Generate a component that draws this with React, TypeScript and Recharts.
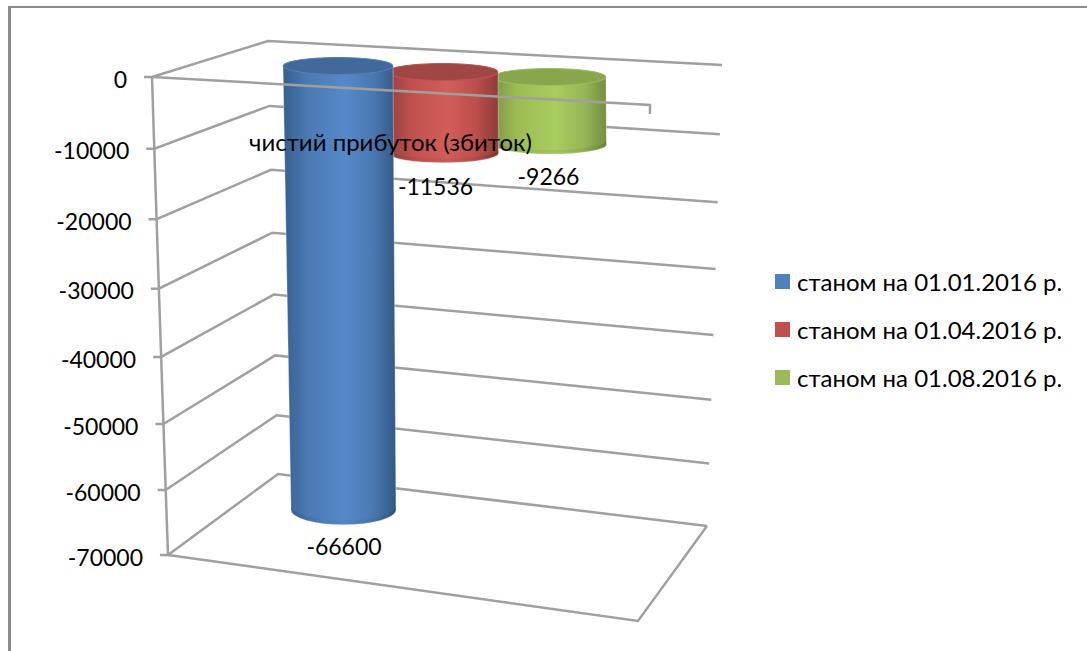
import React from "react";
import { ComposedChart, Bar, XAxis, YAxis, CartesianGrid, ReferenceLine, LabelList, Legend } from "recharts";

const categories = ["чистий прибуток (збиток)"];
const seriesNames = ["станом на 01.01.2016 р.", "станом на 01.04.2016 р.", "станом на 01.08.2016 р."];
const seriesKeys = ["jan", "apr", "aug"];
const janValues = [-66600];
const aprValues = [-11536];
const augValues = [-9266];
const legendColors = ["#4f81bd", "#c0504d", "#9bbb59"];
const yTicks = [0, -10000, -20000, -30000, -40000, -50000, -60000, -70000];

const data = categories.map((category, i) => ({ category, jan: janValues[i], apr: aprValues[i], aug: augValues[i] }));

const FONT = "Lato, 'Open Sans', sans-serif";
const W = 1087, H = 651;
const TOP = 77, BOTTOM = 555, PLOT_LEFT = 152, PLOT_RIGHT = 736, LEGEND_W = 312;
const GRID = "#a0a0a0";

// Perspective helpers for the 3-D wall, all fed by the axis scale's y
const frac = (y: number) => (y - TOP) / (BOTTOM - TOP);
const warp = (t: number) => t + 0.058 * t * (1 - t);
const leftX = (y: number) => 152 + 16 * frac(y);
const leftY = (y: number) => TOP + (BOTTOM - TOP) * warp(frac(y));
const backX = (y: number) => 268 + 10 * frac(y);
const backY = (y: number) => 41 + 433 * warp(frac(y));
const rightX = (y: number) => 722 - 15 * frac(y);
const rightY = (y: number) => 65 + 461 * warp(frac(y));

const looks = [
  { stops: ["#375f8e", "#4b7ab4", "#5689c9", "#4a78b1", "#325985"], cap: "#41699c", rim: "#5582b6", dy: -11, k: 0.976, lx: 6, ly: 21 },
  { stops: ["#94403e", "#c0504e", "#d25e5a", "#bc4e4b", "#8f3c3a"], cap: "#a04745", rim: "#bf5451", dy: -5, k: 1.03, lx: -7, ly: 23 },
  { stops: ["#7b9647", "#9dbd54", "#a9cc5e", "#97b657", "#748e42"], cap: "#88a64c", rim: "#9fbe58", dy: 0, k: 1.07, lx: -1, ly: 22 },
];

const geom = (i: number, x: number, y: number, width: number, height: number) => {
  const top = Math.min(y, y + height);
  const h = Math.abs(height);
  const look = looks[i];
  const tY = top + look.dy;
  const bY = tY + h * look.k;
  const ryT = 8.5;
  const ryB = 8.5 + h * 0.0143;
  const lb = x + h * 0.0176;
  const rb = x + width + h * 0.0066;
  return { tY, bY, ryT, ryB, lb, rb, look };
};

const cylinder = (i: number) => (props: any) => {
  const { x, y, width, height } = props;
  const { tY, bY, ryT, ryB, lb, rb, look } = geom(i, x, y, width, height);
  const rxB = (rb - lb) / 2;
  const id = `cyl-${i}`;
  const shade = `cyl-shade-${i}`;
  const offs = ["0%", "22%", "55%", "80%", "100%"];
  const body = `M${x},${tY} L${lb},${bY} A${rxB},${ryB} 0 0 0 ${rb},${bY} L${x + width},${tY} A${width / 2},${ryT} 0 0 0 ${x},${tY} Z`;
  const lip = `M${lb},${bY - 4} L${lb},${bY} A${rxB},${ryB} 0 0 0 ${rb},${bY} L${rb},${bY - 4} A${rxB},${ryB} 0 0 1 ${lb},${bY - 4} Z`;
  return (
    <g>
      <defs>
        <linearGradient id={id} x1="0" x2="1" y1="0" y2="0">
          {look.stops.map((c, n) => <stop key={n} offset={offs[n]} stopColor={c} />)}
        </linearGradient>
        <linearGradient id={shade} x1="0" x2="0" y1="0" y2="1">
          <stop offset="0%" stopColor="#000" stopOpacity={0.14} />
          <stop offset="100%" stopColor="#000" stopOpacity={0.02} />
        </linearGradient>
      </defs>
      <path d={body} fill={`url(#${id})`} stroke="#ffffff" strokeOpacity={0.35} strokeWidth={1} />
      <path d={lip} fill={`url(#${shade})`} />
      <ellipse cx={x + width / 2} cy={tY} rx={width / 2} ry={ryT} fill={look.cap} stroke={look.rim} strokeWidth={1} />
    </g>
  );
};

const valueLabel = (i: number) => (props: any) => {
  const { x, y, width, height, value } = props;
  const { bY, ryB, look } = geom(i, x, y, width, height);
  return (
    <text x={x + width / 2 + look.lx} y={bY + ryB + look.ly} textAnchor="middle" dominantBaseline="central" fontFamily={FONT} fontSize={23} fill="#000">
      {value}
    </text>
  );
};

const gridLine = (props: any) => {
  const y = props.y1;
  const isFloor = y >= BOTTOM - 1;
  const step = (BOTTOM - TOP) / (yTicks.length - 1);
  const lx = leftX(y), ly = leftY(y);
  return (
    <g key={`wall-${y}`} fill="none" stroke={GRID} strokeWidth={2.5}>
      <path d={`M${lx - 8},${ly} L${lx},${ly} L${backX(y)},${backY(y)} L${rightX(y)},${rightY(y)}`} />
      {!isFloor && <path d={`M${lx},${ly} L${leftX(y + step)},${leftY(y + step)}`} />}
      {isFloor && <path d={`M${lx},${ly} L${lx + 470},${ly + 66} L${rightX(y)},${rightY(y)}`} />}
    </g>
  );
};

const frontZero = (props: any) => {
  const y = props.y1;
  const lx = leftX(y), ly = leftY(y);
  return <path d={`M${lx},${ly} L${lx + 498},${ly + 28} L${lx + 498},${ly + 37}`} fill="none" stroke={GRID} strokeWidth={2.5} />;
};

const yTick = (props: any) => {
  const { y, payload } = props;
  return (
    <text x={leftX(y) - 25} y={leftY(y) + 1.7} textAnchor="end" dominantBaseline="central" fontFamily={FONT} fontSize={23} fill="#000">
      {payload.value}
    </text>
  );
};

const catTick = (props: any) => (
  <text x={props.x - 52} y={141} textAnchor="middle" dominantBaseline="central" fontFamily={FONT} fontSize={24} fill="#000">
    {props.payload.value}
  </text>
);

const legendContent = (props: any) => {
  const items = [...(props.payload || [])].sort((a: any, b: any) => seriesNames.indexOf(a.value) - seriesNames.indexOf(b.value));
  return (
    <div style={{ fontFamily: FONT, fontSize: 24, color: "#000" }}>
      {items.map((it: any) => (
        <div key={it.value} style={{ display: "flex", alignItems: "center", height: 48, whiteSpace: "nowrap" }}>
          <span style={{ width: 15, height: 15, background: it.color, marginRight: 7, display: "inline-block" }} />
          {it.value}
        </div>
      ))}
    </div>
  );
};

export default function App() {
  return (
    <div style={{ position: "absolute", left: 0, top: 0, width: W, height: H, overflow: "hidden", background: "#fff" }}>
      <div style={{ position: "absolute", left: 8, top: 6, right: 0, bottom: 0, borderLeft: "3px solid #8c8c8c", borderTop: "2px solid #8c8c8c" }} />
      <div style={{ position: "absolute", left: 0, top: 0 }}>
        <ComposedChart
          width={W}
          height={H}
          data={data}
          margin={{ top: TOP, right: W - PLOT_RIGHT - LEGEND_W, bottom: H - BOTTOM - 1, left: 0 }}
        >
          <YAxis type="number" width={PLOT_LEFT} domain={[-70000, 0]} ticks={yTicks} interval={0} axisLine={false} tickLine={false} tick={yTick} />
          <XAxis xAxisId="aug" dataKey="category" hide padding={{ left: 211, right: 0 }} />
          <XAxis xAxisId="jan" dataKey="category" hide padding={{ left: 0, right: 212 }} />
          <CartesianGrid xAxisId="apr" vertical={false} horizontal={gridLine} />
          <Bar xAxisId="aug" dataKey={seriesKeys[2]} name={seriesNames[2]} fill={legendColors[2]} barSize={113} shape={cylinder(2)} isAnimationActive={false}>
            <LabelList dataKey={seriesKeys[2]} content={valueLabel(2)} />
          </Bar>
          <Bar xAxisId="apr" dataKey={seriesKeys[1]} name={seriesNames[1]} fill={legendColors[1]} barSize={111} shape={cylinder(1)} isAnimationActive={false}>
            <LabelList dataKey={seriesKeys[1]} content={valueLabel(1)} />
          </Bar>
          <Bar xAxisId="jan" dataKey={seriesKeys[0]} name={seriesNames[0]} fill={legendColors[0]} barSize={110} shape={cylinder(0)} isAnimationActive={false}>
            <LabelList dataKey={seriesKeys[0]} content={valueLabel(0)} />
          </Bar>
          <ReferenceLine xAxisId="apr" y={0} shape={frontZero} ifOverflow="visible" />
          <XAxis xAxisId="apr" dataKey="category" height={1} axisLine={false} tickLine={false} tick={catTick} interval={0} padding={{ left: 0, right: 3 }} />
          <Legend content={legendContent} layout="vertical" align="right" verticalAlign="top" wrapperStyle={{ position: "absolute", left: 775, top: 257, width: LEGEND_W }} />
        </ComposedChart>
      </div>
    </div>
  );
}
